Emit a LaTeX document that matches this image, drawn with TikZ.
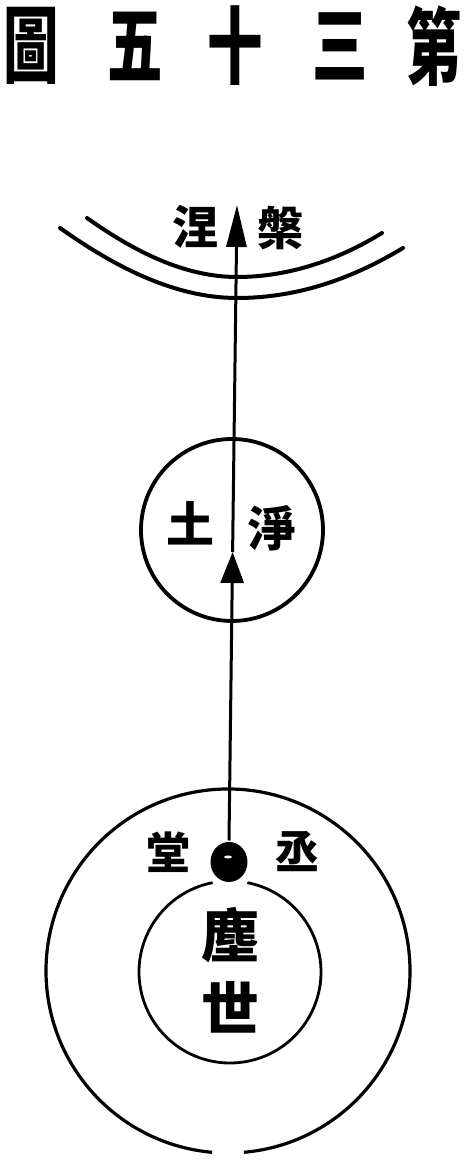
\documentclass[tikz,border=0pt]{standalone}
\usepackage{fontspec}
\newfontfamily\cjk{Noto Sans CJK TC}
\usetikzlibrary{arrows.meta,shapes}

\begin{document}
\begin{tikzpicture}[x=1bp,y=1bp,line join=bevel,
  zi/.style={inner sep=0pt,font=\cjk\bfseries\fontsize{#1bp}{#1bp}\selectfont},
  title/.style={inner sep=0pt,font=\cjk\bfseries\fontsize{84bp}{84bp}\selectfont},
  ring/.style={draw,line width=3.2bp},
  bow/.style={draw,line width=4bp,line cap=round}]
  \pgfsetlinewidth{3bp}
%%
  \useasboundingbox[fill=white] (0,0) rectangle (472,1167);
  % Title (read right to left)
  \foreach \ch/\xx [count=\i] in {圖/31,五/135,十/235,三/340,第/434}
    \node[title] (t\i) at (\xx,1121) {\scalebox{0.66}[1]{\ch}};
  % Arcs: nirvana
  \draw[bow] (60,939) .. controls (115,900) and (175,869) .. (237,869)
    .. controls (300,869) and (355,890) .. (403,919);
  \draw[bow] (87,949) .. controls (135,915) and (185,890) .. (237,890)
    .. controls (290,890) and (340,908) .. (382,934);
  \node[zi=46] (nie) at (195,940) {涅};
  \node[zi=46] (pan) at (280,939) {槃};
  % Node: jingtu
  \node[ring,circle,inner sep=0pt,minimum size=182bp,line width=3.8bp] (jingtu) at (232,637) {};
  \node[zi=48] (tu) at (190,644) {土};
  \node[zi=48] (jing) at (272,639) {淨};
  % Rings: outer (open at the bottom) and inner (open at the top)
  \draw[ring] (228,196) ++(-85:182) arc[start angle=-85,end angle=265,radius=182];
  \draw[ring,line width=2.8bp] (230,195) ++(101:91) arc[start angle=101,end angle=439,radius=91];
  % Node: dot
  \node[ellipse,fill,inner sep=0pt,minimum width=37bp,minimum height=40bp] (dot) at (229,305) {};
  \fill[white] (228,310) ellipse (4 and 1.5);
  \node[zi=44] (tang) at (168,315) {堂};
  \node[zi=44] (cheng) at (297,315) {丞};
  \node[zi=58] (chen) at (230,232) {塵};
  \node[zi=58] (shi) at (230,160) {世};
  % Edge: dot -> mid -> top
  \coordinate (mid) at (232.6,615);
  \coordinate (top) at (237,962);
  \draw[-{Triangle[length=31bp,width=23bp]}] (dot.north) -- (mid);
  \draw[-{Triangle[length=42bp,width=20bp]}] (mid) -- (top);
%
\end{tikzpicture}
\end{document}
